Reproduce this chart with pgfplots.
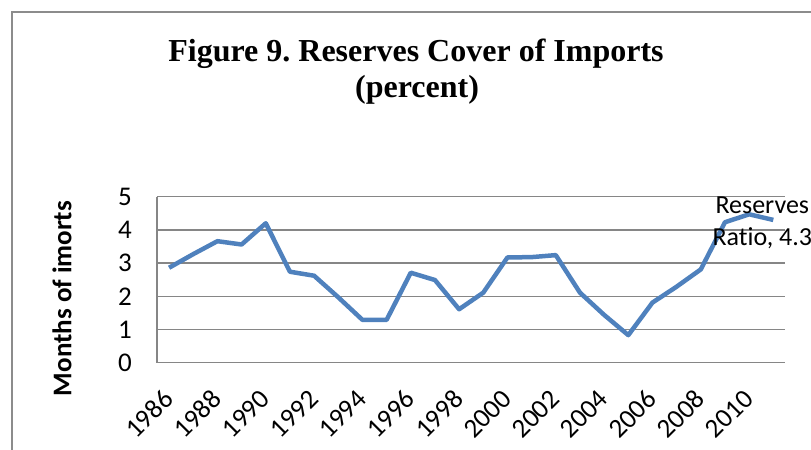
\documentclass[border=0pt]{standalone}
\usepackage{fontspec}
\setmainfont{Carlito}[Ligatures=NoCommon]
\newfontfamily\timesfont{Liberation Serif}
\usepackage{pgfplots}
\pgfplotsset{compat=1.18}

\definecolor{seriesblue}{HTML}{4F81BD}
\definecolor{gridgray}{HTML}{868686}
\definecolor{framegray}{HTML}{8C8C8C}

\begin{document}
\begin{tikzpicture}
% the reference is a crop of a larger chart: 811x450 px window, 1px = 0.5pt
\useasboundingbox (0pt,0pt) rectangle (405.5pt,225pt);
\clip (0pt,0pt) rectangle (405.5pt,225pt);
\draw[framegray, line width=0.85pt] (6pt,-10pt) -- (6pt,219.15pt) -- (500pt,219.15pt);

\node[font=\timesfont\bfseries\fontsize{16}{19}\selectfont, anchor=base] at (208pt,194pt) {Figure 9.\ Reserves Cover of Imports};
\node[font=\timesfont\bfseries\fontsize{16}{19}\selectfont, anchor=base] at (208.5pt,176pt) {(percent)};

\begin{axis}[
    at={(78.5pt,43.65pt)}, anchor=south west,
    scale only axis, width=314.2pt, height=83pt,
    xmin=1985.5, xmax=2011.5,
    ymin=0, ymax=5,
    axis x line*=bottom, axis y line*=left,
    axis line style={-, draw=gridgray, line width=0.75pt},
    xtick={1986,1988,...,2010},
    ytick={0,1,...,5},
    major tick length=0pt,
    ymajorgrids=true,
    grid style={draw=gridgray, line width=0.75pt},
    /pgf/number format/1000 sep={},
    /pgf/number format/assume math mode=true,
    tick label style={font=\fontsize{13.5}{16}\selectfont},
    xticklabel style={xshift=2.2pt, yshift=-13.5pt, rotate=45, anchor=east},
    yticklabel style={xshift=-9pt},
    ylabel={Months of imorts},
    ylabel style={font=\bfseries\fontsize{13.5}{16}\selectfont, at={(axis description cs:-0.1512,0.3867)}, anchor=center},
    clip=false,
]
\addplot[seriesblue, line width=2.25pt, line join=round, no marks] coordinates {
    (1986,2.86)(1987,3.27)(1988,3.66)(1989,3.56)(1990,4.20)
    (1991,2.74)(1992,2.62)(1993,1.97)(1994,1.29)(1995,1.29)
    (1996,2.71)(1997,2.49)(1998,1.61)(1999,2.11)(2000,3.17)
    (2001,3.18)(2002,3.24)(2003,2.11)(2004,1.44)(2005,0.83)
    (2006,1.81)(2007,2.29)(2008,2.81)(2009,4.23)(2010,4.47)
    (2011,4.30)
};
\node[font=\fontsize{13}{16}\selectfont, align=center, xshift=-5.5pt, yshift=-1.5pt] at (axis cs:2011,4.3) {Reserves\\Ratio, 4.3};
\end{axis}
\end{tikzpicture}
\end{document}
